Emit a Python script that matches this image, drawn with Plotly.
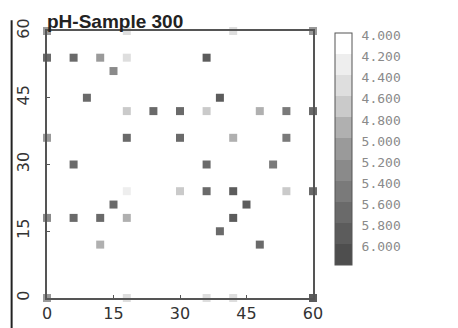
import plotly.graph_objects as go

# Sample positions (x, y) and pH values
x_vals = [0, 6, 12, 18, 36,
          15,
          9, 39,
          18, 24, 30, 36, 48, 54, 60,
          0, 18, 30, 42, 54,
          6, 36, 51,
          18, 30, 36, 42, 54, 60,
          15, 45,
          0, 6, 12, 18, 42,
          39,
          12, 48,
          18, 36, 42, 18, 42,
          0, 60, 0, 60]
y_vals = [54, 54, 54, 54, 54,
          51,
          45, 45,
          42, 42, 42, 42, 42, 42, 42,
          36, 36, 36, 36, 36,
          30, 30, 30,
          24, 24, 24, 24, 24, 24,
          21, 21,
          18, 18, 18, 18, 18,
          15,
          12, 12,
          0, 0, 0, 60, 60,
          0, 0, 60, 60]
ph_vals = [5.6, 5.6, 5.0, 4.4, 5.8,
           5.2,
           5.6, 5.7,
           4.6, 5.6, 5.6, 4.6, 4.8, 5.4, 5.6,
           5.0, 5.6, 5.6, 4.8, 5.4,
           5.6, 5.6, 5.4,
           4.2, 4.6, 5.6, 5.8, 4.6, 5.6,
           5.6, 5.8,
           5.2, 5.6, 5.6, 4.8, 5.8,
           5.6,
           4.8, 5.6,
           4.4, 4.4, 4.4, 4.4, 4.4,
           5.0, 5.8, 5.0, 5.0]

levels = [4.0, 4.2, 4.4, 4.6, 4.8, 5.0, 5.2, 5.4, 5.6, 5.8, 6.0]
level_labels = ["4.000", "4.200", "4.400", "4.600", "4.800", "5.000",
                "5.200", "5.400", "5.600", "5.800", "6.000"]
band_colors = ["#ffffff", "#eeeeee", "#dedede", "#cacaca", "#b0b0b0", "#9a9a9a",
               "#8a8a8a", "#7a7a7a", "#6a6a6a", "#5c5c5c", "#4e4e4e"]

# colour axis runs on the negated pH so that 4.000 sits at the top of the bar
cmin, cmax = -6.1, -3.9
n = len(band_colors)
colorscale = []
for i, c in enumerate(reversed(band_colors)):
    colorscale.append([i / n, c])
    colorscale.append([(i + 1) / n, c])

fig = go.Figure()
fig.add_trace(go.Scatter(
    x=x_vals, y=y_vals, mode="markers", cliponaxis=False,
    marker=dict(symbol="square", size=8, color=[-v for v in ph_vals],
                colorscale=colorscale, cmin=cmin, cmax=cmax,
                line=dict(width=0),
                colorbar=dict(
                    tickvals=[-v + 0.075 for v in levels], ticktext=level_labels,
                    lenmode="pixels", len=232, thickness=17,
                    xpad=0, ypad=0,
                    x=1.083, xanchor="left", y=0.9925, yanchor="top",
                    outlinewidth=1, outlinecolor="#555",
                    ticks="outside", ticklen=7, tickcolor="rgba(0,0,0,0)",
                    tickfont=dict(family="DejaVu Sans Mono", size=13, color="#8a8a8a"),
                )),
    showlegend=False,
))

# page body adds an 8px offset, so the figure is 450x320 with margins shifted
fig.update_layout(
    width=450, height=320,
    margin=dict(l=39, r=145, t=23, b=30),
    paper_bgcolor="white", plot_bgcolor="white",
    xaxis=dict(range=[0, 60], tickvals=[0, 15, 30, 45, 60], showgrid=False,
               zeroline=False, showline=True, mirror=True, linecolor="#555",
               linewidth=2, ticks="inside", ticklen=3, tickcolor="#555",
               automargin=False,
               tickfont=dict(family="DejaVu Sans", size=16, color="#333")),
    yaxis=dict(range=[0, 60], tickvals=[0, 15, 30, 45, 60], showgrid=False,
               zeroline=False, showline=True, mirror=True, linecolor="#555",
               linewidth=2, ticks="inside", ticklen=3, tickcolor="#555",
               tickangle=-90, ticklabelstandoff=10, automargin=False,
               tickfont=dict(family="DejaVu Sans", size=16, color="#333")),
    annotations=[dict(text="<b>pH-Sample 300</b>", xref="paper", yref="paper",
                      x=-0.008, y=0.99, xanchor="left", yanchor="bottom",
                      showarrow=False,
                      font=dict(family="Liberation Sans", size=19, color="#222"))],
    shapes=[
        dict(type="line", xref="paper", yref="paper", x0=-0.133, x1=-0.133,
             y0=-0.12, y1=1.04, line=dict(color="#222", width=2)),
    ],
)

fig.write_html("out.html")
